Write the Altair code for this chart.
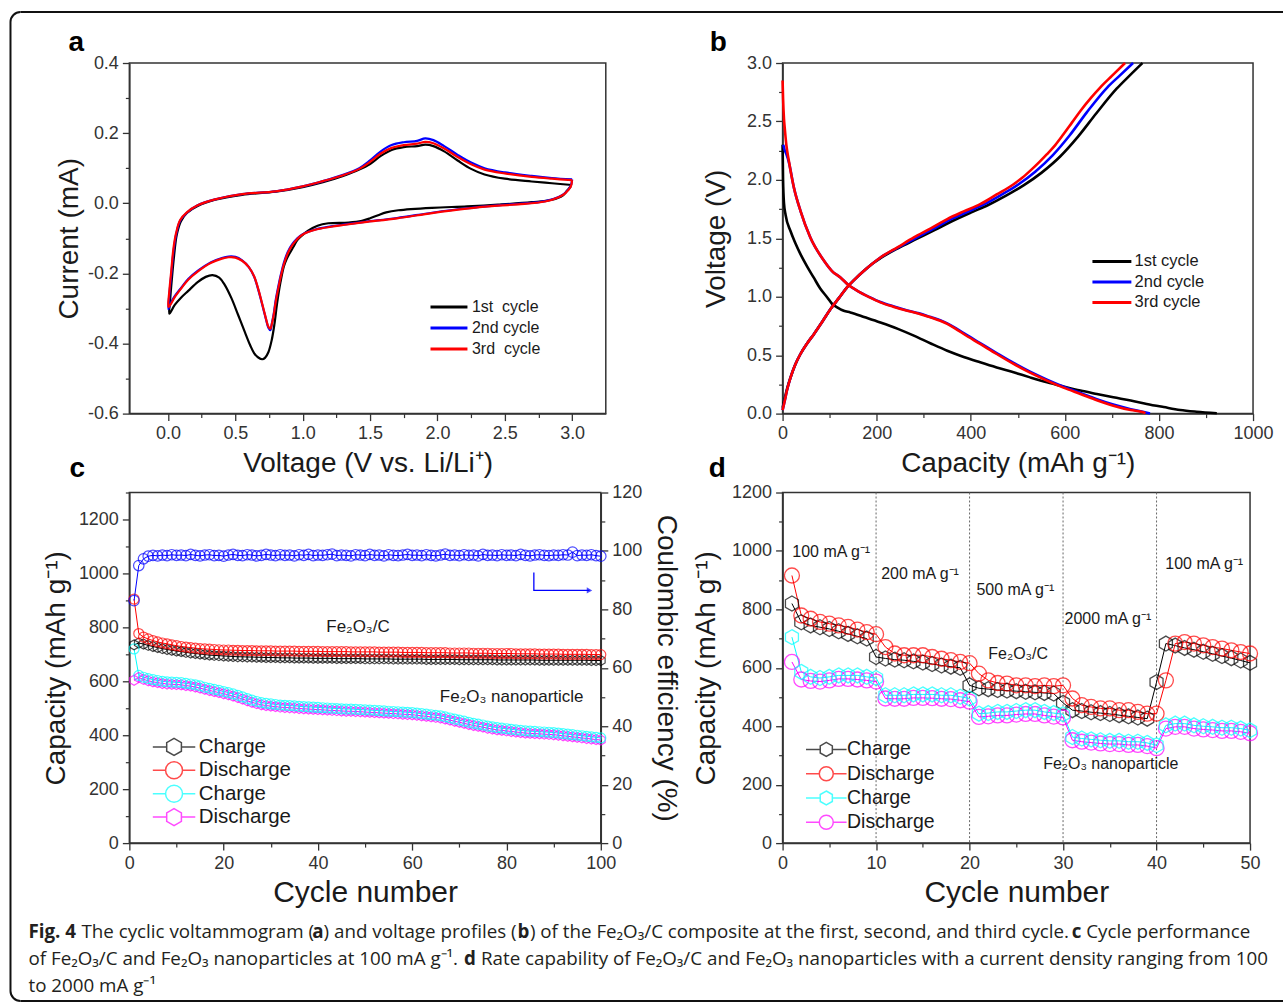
import altair as alt
import pandas as pd

FONT = "Liberation Sans"
CAP_FONT = "Open Sans"
AXC = "#333333"
TXT = "#1a1a1a"

# ---------------- (a) cyclic voltammogram ----------------
A_NAMES = ["1st\u00a0 cycle", "2nd cycle", "3rd\u00a0 cycle"]
A_COLORS = ["#000000", "#0000ff", "#ff0000"]
A1_V = [2.99, 2.96, 2.93, 2.85, 2.70, 2.45, 2.22, 1.96, 1.71, 1.62, 1.56, 1.50, 1.44, 1.34, 1.19,
        1.11, 1.04, 1.00, 0.96, 0.93, 0.90, 0.88, 0.86, 0.835, 0.81, 0.79, 0.77, 0.745, 0.72, 0.70,
        0.67, 0.64, 0.61, 0.57, 0.52, 0.47, 0.42, 0.38, 0.33, 0.28, 0.22, 0.15, 0.10, 0.05, 0.01,
        0.015, 0.03, 0.045, 0.065, 0.095, 0.14, 0.22, 0.35, 0.55, 0.80, 1.00, 1.15, 1.30, 1.42, 1.50,
        1.58, 1.66, 1.75, 1.85, 1.91, 1.97, 2.05, 2.15, 2.25, 2.35, 2.50, 2.70, 2.85, 3.00]
A1_I = [0.048, 0.035, 0.022, 0.010, 0.003, -0.004, -0.009, -0.013, -0.020, -0.026, -0.034, -0.043, -0.050, -0.055, -0.057,
        -0.064, -0.078, -0.090, -0.105, -0.125, -0.145, -0.160, -0.180, -0.225, -0.285, -0.345, -0.390, -0.425, -0.441, -0.445,
        -0.440, -0.428, -0.405, -0.367, -0.318, -0.270, -0.232, -0.212, -0.205, -0.210, -0.225, -0.250, -0.268, -0.290, -0.315,
        -0.28, -0.21, -0.15, -0.09, -0.052, -0.028, -0.008, 0.010, 0.024, 0.033, 0.046, 0.060, 0.078, 0.096, 0.112,
        0.135, 0.152, 0.160, 0.163, 0.167, 0.163, 0.148, 0.122, 0.098, 0.082, 0.070, 0.062, 0.057, 0.052]
A2_V = [3.00, 2.99, 2.95, 2.90, 2.80, 2.60, 2.45, 2.20, 1.96, 1.70, 1.46, 1.30, 1.21, 1.10, 1.00,
        0.96, 0.92, 0.89, 0.86, 0.84, 0.82, 0.80, 0.785, 0.77, 0.76, 0.745, 0.73, 0.71, 0.69, 0.665,
        0.64, 0.60, 0.55, 0.50, 0.45, 0.40, 0.32, 0.22, 0.15, 0.10, 0.05, 0.02, 0.003,
        0.01, 0.025, 0.04, 0.06, 0.09, 0.14, 0.22, 0.35, 0.55, 0.80, 1.00, 1.15, 1.30, 1.42, 1.50,
        1.58, 1.66, 1.75, 1.85, 1.91, 1.97, 2.05, 2.15, 2.25, 2.35, 2.50, 2.70, 2.85, 3.00]
A2_I = [0.068, 0.050, 0.030, 0.018, 0.006, -0.002, -0.006, -0.015, -0.027, -0.042, -0.053, -0.061, -0.066, -0.074, -0.088,
        -0.100, -0.118, -0.138, -0.170, -0.200, -0.235, -0.275, -0.315, -0.345, -0.362, -0.355, -0.335, -0.305, -0.275, -0.240,
        -0.210, -0.182, -0.163, -0.153, -0.152, -0.156, -0.168, -0.193, -0.216, -0.240, -0.265, -0.285, -0.302,
        -0.26, -0.20, -0.14, -0.09, -0.050, -0.027, -0.006, 0.011, 0.026, 0.034, 0.048, 0.063, 0.081, 0.100, 0.122,
        0.148, 0.166, 0.174, 0.178, 0.185, 0.180, 0.163, 0.138, 0.116, 0.100, 0.088, 0.078, 0.072, 0.068]
A3_V = [3.00, 2.99, 2.95, 2.90, 2.80, 2.60, 2.45, 2.20, 1.96, 1.70, 1.46, 1.30, 1.21, 1.10, 1.00,
        0.96, 0.92, 0.89, 0.86, 0.84, 0.82, 0.80, 0.785, 0.77, 0.76, 0.745, 0.73, 0.71, 0.69, 0.665,
        0.64, 0.60, 0.55, 0.50, 0.45, 0.40, 0.32, 0.22, 0.15, 0.10, 0.05, 0.02, 0.003,
        0.01, 0.025, 0.04, 0.06, 0.09, 0.14, 0.22, 0.35, 0.55, 0.80, 1.00, 1.15, 1.30, 1.42, 1.50,
        1.58, 1.66, 1.75, 1.85, 1.91, 1.97, 2.05, 2.15, 2.25, 2.35, 2.50, 2.70, 2.85, 3.00]
A3_I = [0.066, 0.048, 0.029, 0.017, 0.005, -0.003, -0.007, -0.016, -0.028, -0.043, -0.054, -0.062, -0.067, -0.075, -0.089,
        -0.102, -0.121, -0.142, -0.174, -0.204, -0.240, -0.280, -0.318, -0.346, -0.358, -0.352, -0.333, -0.303, -0.273, -0.238,
        -0.209, -0.182, -0.164, -0.155, -0.154, -0.158, -0.170, -0.195, -0.218, -0.242, -0.268, -0.288, -0.296,
        -0.25, -0.19, -0.13, -0.085, -0.048, -0.026, -0.006, 0.011, 0.026, 0.034, 0.048, 0.063, 0.080, 0.098, 0.118,
        0.142, 0.158, 0.166, 0.170, 0.175, 0.171, 0.156, 0.132, 0.111, 0.096, 0.085, 0.075, 0.070, 0.066]

# ---------------- (b) voltage profiles ----------------
B_NAMES = ["1st cycle", "2nd cycle", "3rd cycle"]
B1D_C = [0, 1, 3, 6.4, 17, 27, 38, 52, 66, 80, 95, 105, 116, 130, 144, 175, 208, 245, 279, 315,
         350, 385, 420, 455, 491, 526, 562, 597, 633, 668, 703, 740, 774, 810, 845, 880, 923]
B1D_V = [2.30, 2.00, 1.80, 1.70, 1.56, 1.46, 1.365, 1.26, 1.165, 1.07, 0.994, 0.94, 0.909, 0.88, 0.866, 0.825, 0.780, 0.725, 0.667, 0.600,
         0.538, 0.485, 0.439, 0.395, 0.353, 0.310, 0.268, 0.232, 0.197, 0.168, 0.140, 0.112, 0.083, 0.056, 0.031, 0.016, 0.003]
B2D_C = [1.5, 4, 8, 13.4, 24, 38, 59, 88, 105, 123, 140, 159, 185, 208, 235, 265, 290, 315, 335, 350,
         368, 385, 420, 455, 491, 526, 562, 597, 633, 668, 703, 740, 770, 781]
B2D_V = [2.30, 2.26, 2.22, 2.15, 1.934, 1.735, 1.507, 1.308, 1.22, 1.165, 1.10, 1.051, 0.997, 0.955, 0.918, 0.883, 0.858, 0.826, 0.800, 0.772,
         0.731, 0.688, 0.603, 0.518, 0.433, 0.358, 0.290, 0.230, 0.176, 0.123, 0.077, 0.038, 0.012, 0.0]
B3D_C = [0, 1, 3, 4.5, 8, 13.4, 24, 38, 59, 88, 105, 123, 140, 159, 185, 208, 235, 265, 290, 315,
         335, 350, 368, 385, 420, 455, 491, 526, 562, 597, 633, 668, 703, 740, 767, 771]
B3D_V = [2.85, 2.70, 2.52, 2.447, 2.30, 2.162, 1.934, 1.735, 1.507, 1.308, 1.22, 1.165, 1.10, 1.051, 0.995, 0.952, 0.915, 0.880, 0.855, 0.823,
         0.795, 0.767, 0.725, 0.681, 0.596, 0.510, 0.425, 0.350, 0.282, 0.222, 0.168, 0.115, 0.068, 0.030, 0.011, 0.0]
B1C_C = [0, 4, 10, 17, 27, 38, 52, 66.5, 85, 102, 120, 137, 155, 173, 190, 208, 245, 285, 325, 362,
         400, 437, 475, 513, 550, 590, 628, 667, 710, 737, 765]
B1C_V = [0.05, 0.12, 0.22, 0.31, 0.42, 0.51, 0.60, 0.68, 0.79, 0.895, 0.99, 1.08, 1.155, 1.222, 1.28, 1.33, 1.415, 1.495, 1.575, 1.65,
         1.72, 1.785, 1.865, 1.955, 2.06, 2.20, 2.37, 2.57, 2.78, 2.89, 3.0]
B2C_C = [0, 4, 10, 17, 27, 38, 52, 66.5, 85, 102, 120, 137, 155, 173, 190, 208, 245, 282, 320, 356,
         392, 428, 464, 501, 537, 574, 610, 647, 690, 716, 745]
B2C_V = [0.03, 0.10, 0.21, 0.31, 0.42, 0.51, 0.60, 0.68, 0.79, 0.895, 0.99, 1.08, 1.155, 1.222, 1.28, 1.336, 1.42, 1.50, 1.58, 1.66,
         1.725, 1.79, 1.87, 1.96, 2.07, 2.21, 2.38, 2.58, 2.79, 2.89, 3.0]
B3C_C = [0, 4, 10, 17, 27, 38, 52, 66.5, 85, 102, 120, 137, 155, 173, 190, 208, 245, 279, 315, 350,
         385, 420, 455, 491, 510, 526, 545, 562, 580, 597, 615, 633, 655, 675, 700, 728]
B3C_V = [0.03, 0.10, 0.21, 0.31, 0.42, 0.51, 0.60, 0.68, 0.79, 0.895, 0.99, 1.08, 1.155, 1.222, 1.28, 1.336, 1.425, 1.507, 1.585, 1.664,
         1.73, 1.792, 1.875, 1.963, 2.02, 2.077, 2.15, 2.22, 2.30, 2.39, 2.49, 2.59, 2.70, 2.79, 2.89, 3.0]

# ---------------- (c) cycle performance ----------------
C_CE = [83.0, 95.0, 97.3, 98.2, 98.5, 98.3, 98.6, 98.4, 98.7, 98.5,
        98.6, 98.4, 98.8, 98.5, 98.3, 98.6, 98.7, 98.4, 98.5, 98.2,
        98.6, 98.8, 98.5, 98.4, 98.7, 98.6, 98.3, 98.5, 98.8, 98.6,
        98.4, 98.7, 98.5, 98.6, 98.3, 98.7, 98.5, 98.8, 98.4, 98.6,
        98.5, 98.7, 98.9, 98.4, 98.6, 98.5, 98.3, 98.7, 98.6, 98.4,
        98.8, 98.5, 98.6, 98.3, 98.7, 98.5, 98.4, 98.6, 98.8, 98.5,
        98.6, 98.4, 98.7, 98.5, 98.3, 98.6, 98.9, 98.5, 98.6, 98.4,
        98.7, 98.5, 98.6, 98.3, 98.8, 98.5, 98.6, 98.4, 98.7, 98.5,
        98.6, 98.4, 98.8, 98.5, 98.3, 98.6, 98.7, 98.5, 98.4, 98.6,
        98.5, 98.7, 98.6, 99.6, 98.4, 98.6, 98.5, 98.7, 98.4, 98.2]
C_CH_FC = [735, 742, 738, 733, 729, 725, 721, 718, 715, 712,
           710, 707, 705, 703, 701, 699, 697, 696, 695, 694,
           693, 692, 691, 691, 690, 690, 689, 689, 688, 688,
           688, 687, 687, 687, 686, 686, 686, 686, 685, 685,
           685, 685, 685, 684, 684, 684, 684, 684, 684, 683,
           683, 683, 683, 683, 683, 682, 682, 682, 682, 682,
           682, 682, 681, 681, 681, 681, 681, 681, 681, 680,
           680, 680, 680, 680, 680, 680, 680, 679, 679, 679,
           679, 679, 679, 679, 679, 679, 678, 678, 678, 678,
           678, 678, 678, 678, 678, 678, 678, 677, 677, 677]
C_DIS_FC = [905, 777, 764, 757, 751, 746, 742, 739, 735, 732,
            729, 727, 725, 723, 721, 720, 719, 718, 717, 716,
            716, 715, 715, 714, 714, 714, 713, 713, 713, 713,
            712, 712, 712, 712, 712, 711, 711, 711, 711, 711,
            710, 710, 710, 710, 710, 710, 709, 709, 709, 709,
            709, 709, 708, 708, 708, 708, 708, 707, 707, 707,
            707, 707, 706, 706, 706, 706, 706, 705, 705, 705,
            705, 705, 704, 704, 704, 704, 703, 703, 703, 703,
            703, 702, 702, 702, 702, 702, 701, 701, 701, 701,
            701, 700, 700, 700, 700, 700, 700, 699, 699, 699]
C_CH_NP = [720, 622, 615, 610, 606, 603, 600, 598, 597, 596,
           595, 592, 590, 587, 583, 578, 574, 570, 566, 562,
           558, 553, 548, 542, 536, 530, 525, 521, 518, 516,
           514, 512, 511, 510, 509, 507, 506, 505, 504, 503,
           502, 501, 500, 499, 498, 497, 497, 496, 495, 494,
           493, 492, 491, 490, 489, 488, 487, 486, 485, 484,
           482, 480, 478, 476, 474, 472, 468, 464, 460, 456,
           452, 448, 444, 441, 438, 434, 431, 428, 426, 424,
           422, 420, 418, 416, 415, 414, 413, 412, 411, 410,
           408, 406, 404, 402, 400, 398, 396, 394, 392, 390]
C_DIS_NP = [604, 614, 607, 602, 598, 595, 592, 590, 589, 588,
            587, 584, 582, 579, 575, 570, 566, 562, 558, 554,
            550, 545, 540, 534, 528, 522, 517, 513, 510, 508,
            506, 504, 503, 502, 501, 499, 498, 497, 496, 495,
            494, 493, 492, 491, 490, 489, 489, 488, 487, 486,
            485, 484, 483, 482, 481, 480, 479, 478, 477, 476,
            474, 472, 470, 468, 466, 464, 460, 456, 452, 448,
            444, 440, 436, 433, 430, 426, 423, 420, 418, 416,
            414, 412, 410, 408, 407, 406, 405, 404, 403, 402,
            400, 398, 396, 394, 392, 390, 388, 386, 384, 382]
C_ANN_T = ["Fe\u2082O\u2083/C", "Fe\u2082O\u2083 nanoparticle"]
C_ANN_X = [48.5, 81.1]
C_ANN_Y = [800, 540]
C_ARROW_X = [85.8, 85.8, 97.6]
C_ARROW_Y = [92.6, 86.5, 86.5]

# ---------------- (d) rate capability ----------------
D_CH_FC = [820, 756, 745, 739, 733, 725, 716, 708, 700, 637,
           632, 628, 626, 622, 618, 613, 608, 604, 600, 540,
           530, 527, 524, 522, 520, 518, 516, 514, 512, 480,
           455, 452, 448, 445, 442, 438, 434, 430, 426, 551,
           683, 676, 668, 662, 655, 648, 640, 633, 625, 617]
D_DIS_FC = [916, 779, 768, 757, 751, 745, 740, 731, 722, 715,
            671, 649, 643, 643, 643, 637, 631, 626, 620, 616,
            580, 557, 548, 546, 540, 540, 537, 540, 537, 540,
            495, 472, 466, 461, 461, 455, 455, 449, 443, 443,
            557, 683, 688, 683, 677, 671, 666, 660, 654, 649]
D_CH_NP = [705, 586, 569, 565, 569, 574, 574, 574, 569, 565,
           506, 506, 506, 509, 509, 509, 506, 506, 501, 495,
           443, 445, 449, 449, 452, 455, 455, 449, 445, 441,
           363, 358, 355, 352, 350, 350, 347, 347, 343, 335,
           403, 409, 409, 403, 400, 398, 395, 395, 392, 386]
D_DIS_NP = [620, 560, 555, 553, 557, 562, 562, 560, 557, 553,
            495, 494, 494, 497, 497, 496, 494, 493, 489, 484,
            432, 434, 437, 437, 440, 442, 442, 437, 433, 430,
            352, 347, 344, 341, 339, 339, 336, 336, 332, 325,
            392, 398, 398, 392, 389, 387, 384, 384, 381, 376]
D_RATE_STEPS = [10, 20, 30, 40]
D_ANN_T = ["100 mA g\u207b\u00b9", "200 mA g\u207b\u00b9", "500 mA g\u207b\u00b9", "2000 mA g\u207b\u00b9",
           "100 mA g\u207b\u00b9", "Fe\u2082O\u2083/C", "Fe\u2082O\u2083 nanoparticle"]
D_ANN_X = [5.2, 14.7, 24.9, 34.8, 45.1, 25.2, 35.1]
D_ANN_Y = [995, 920, 865, 766, 957, 646, 270]

KEYS = ["c1", "d1", "c2", "d2"]
KEY_COLORS = ["#000000", "#ff0000", "#00ffff", "#ff00ff"]
HEX = "M0,-1L0.866,-0.5L0.866,0.5L0,1L-0.866,0.5L-0.866,-0.5Z"
LEG_LINE = "M-2.5,0L2.5,0"


def leg_circle(w):
    return f"M-{w},0L-1,0M1,0L{w},0M1,0A1,1,0,1,1,-1,0A1,1,0,1,1,1,0Z"


def leg_hex(w):
    return f"M-{w},0L-0.866,0M0.866,0L{w},0M0,-1L0.866,-0.5L0.866,0.5L0,1L-0.866,0.5L-0.866,-0.5Z"


ONE = pd.DataFrame({"k": [0]})


def major_axis(values, title, orient, fmt=None, expr=None, tsize=28, tpad=6, lpad=4):
    kw = dict(values=values, title=title, orient=orient, grid=False,
              labelFont=FONT, labelFontSize=18, labelColor="#333333",
              titleFont=FONT, titleFontSize=tsize, titleFontWeight="normal", titleColor=TXT,
              titlePadding=tpad, labelPadding=lpad, tickSize=7, tickWidth=1.3, tickColor=AXC,
              domainColor=AXC, domainWidth=1.5, labelFlush=False, labelOverlap=False)
    if fmt is not None:
        kw["format"] = fmt
    if expr is not None:
        kw["labelExpr"] = expr
    return alt.Axis(**kw)


def minor_axis(values, orient):
    return alt.Axis(values=values, orient=orient, labels=False, domain=False, grid=False,
                    title=None, tickSize=4, tickWidth=1.2, tickColor=AXC)


def minor_layer(xs, xvals, ys, yvals, yorient="left"):
    enc = {}
    if xs is not None:
        enc["x"] = alt.X("k:Q", scale=xs, axis=minor_axis(xvals, "bottom"))
    enc["y"] = alt.Y("k:Q", scale=ys, axis=minor_axis(yvals, yorient))
    return alt.Chart(ONE).transform_filter("false").mark_point().encode(**enc)


def letter(t, x, y):
    return alt.Chart(ONE).mark_text(text=t, font=FONT, fontSize=28, fontWeight="bold", color="#000000",
                                    align="left", baseline="alphabetic").encode(x=alt.value(x), y=alt.value(y))


def line_legend(x, y, fs, rowpad, symsize, lab_off):
    return alt.Legend(orient="none", legendX=x, legendY=y, title=None, labelFont=FONT, labelFontSize=fs,
                      labelColor=TXT, symbolType=LEG_LINE, symbolSize=symsize, symbolStrokeWidth=3,
                      symbolFillColor="transparent", labelOffset=lab_off, rowPadding=rowpad, padding=0)


def pt_legend(x, y, fs, lab_off, rowpad, ssize):
    return alt.Legend(orient="none", legendX=x, legendY=y, title=None, labelFont=FONT, labelFontSize=fs,
                      labelColor=TXT, labelOffset=lab_off, rowPadding=rowpad, padding=0, symbolSize=ssize,
                      symbolStrokeWidth=1.5, symbolFillColor="transparent",
                      labelExpr="datum.label[0] == 'c' ? 'Charge' : 'Discharge'")


def neg_fmt(fmt):
    return "replace(format(datum.value, '" + fmt + "'), '\u2212', '-')"


# ---------------- panel a ----------------
frames = []
for v, i, n in [(A1_V, A1_I, A_NAMES[0]), (A2_V, A2_I, A_NAMES[1]), (A3_V, A3_I, A_NAMES[2])]:
    frames.append(pd.DataFrame({"V": v, "I": i, "s": n, "o": list(range(len(v)))}))
df_a = pd.concat(frames, ignore_index=True)

sa_x = alt.Scale(domain=[-0.287, 3.25], nice=False, zero=False)
sa_y = alt.Scale(domain=[-0.6, 0.4], nice=False, zero=False)
a_lines = alt.Chart(df_a).mark_line(strokeWidth=2.2, interpolate="catmull-rom").encode(
    x=alt.X("V:Q", scale=sa_x, axis=major_axis([0.0, 0.5, 1.0, 1.5, 2.0, 2.5, 3.0], "Voltage (V vs. Li/Li\u207a)",
                                               "bottom", fmt=".1f", tpad=7)),
    y=alt.Y("I:Q", scale=sa_y, axis=major_axis([-0.6, -0.4, -0.2, 0.0, 0.2, 0.4], "Current (mA)", "left",
                                               expr=neg_fmt(".1f"), tpad=4)),
    color=alt.Color("s:N", scale=alt.Scale(domain=A_NAMES, range=A_COLORS),
                    legend=line_legend(311, 235.3, 16, 4, 219, 14)),
    order=alt.Order("o:Q"),
)
a_minor = minor_layer(sa_x, [0.25, 0.75, 1.25, 1.75, 2.25, 2.75], sa_y, [-0.5, -0.3, -0.1, 0.1, 0.3])

# frame of the whole figure and the caption, placed relative to panel a
border = [
    alt.Chart(ONE).mark_rule(color="#111111", strokeWidth=2).encode(
        x=alt.value(-109), x2=alt.value(1155), y=alt.value(-51)),
    alt.Chart(ONE).mark_rule(color="#111111", strokeWidth=2).encode(
        x=alt.value(-109), x2=alt.value(1155), y=alt.value(939)),
    alt.Chart(ONE).mark_rule(color="#111111", strokeWidth=2).encode(
        x=alt.value(-119), y=alt.value(-41), y2=alt.value(929)),
    alt.Chart(ONE).mark_arc(innerRadius=10, outerRadius=10, theta=4.7124, theta2=6.2832, stroke="#111111",
                            strokeWidth=2, fill="transparent").encode(x=alt.value(-109), y=alt.value(-41)),
    alt.Chart(ONE).mark_arc(innerRadius=10, outerRadius=10, theta=3.1416, theta2=4.7124, stroke="#111111",
                            strokeWidth=2, fill="transparent").encode(x=alt.value(-109), y=alt.value(929)),
]

CAPTION = [
    ("Fig. 4", True, 27, 0),
    ("The cyclic voltammogram (", False, 80, 0),
    ("a", True, 311, 0),
    (") and voltage profiles (", False, 322.5, 0),
    ("b", True, 516.5, 0),
    (") of the Fe\u2082O\u2083/C composite at the first, second, and third cycle.", False, 529, 0),
    ("c", True, 1071.5, 0),
    ("Cycle performance", False, 1086, 0),
    ("of Fe\u2082O\u2083/C and Fe\u2082O\u2083 nanoparticles at 100 mA g\u207b\u00b9.", False, 27, 1),
    ("d", True, 463, 1),
    ("Rate capability of Fe\u2082O\u2083/C and Fe\u2082O\u2083 nanoparticles with a current density ranging from 100",
     False, 480, 1),
    ("to 2000 mA g\u207b\u00b9", False, 27, 2),
]
CAP_BASE = [938, 965, 992]
caption_layers = []
for txt, bold, px, line in CAPTION:
    caption_layers.append(
        alt.Chart(ONE).mark_text(text=txt, font=CAP_FONT, fontSize=18.8, fontWeight="bold" if bold else "normal",
                                 color="#231f20", align="left", baseline="alphabetic").encode(
            x=alt.value(px - 128), y=alt.value(CAP_BASE[line] - 62)))

panel_a = alt.layer(a_lines, a_minor, letter("a", -61, -12), *border, *caption_layers).resolve_axis(
    x="independent", y="independent").properties(width=477, height=351)

# ---------------- panel b ----------------
frames = []
for c, v, n, cid in [(B1D_C, B1D_V, B_NAMES[0], "1d"), (B1C_C, B1C_V, B_NAMES[0], "1c"),
                     (B2D_C, B2D_V, B_NAMES[1], "2d"), (B2C_C, B2C_V, B_NAMES[1], "2c"),
                     (B3D_C, B3D_V, B_NAMES[2], "3d"), (B3C_C, B3C_V, B_NAMES[2], "3c")]:
    frames.append(pd.DataFrame({"C": c, "V": v, "s": n, "curve": cid, "o": list(range(len(c)))}))
df_b = pd.concat(frames, ignore_index=True)
sb_x = alt.Scale(domain=[0, 1000], nice=False)
sb_y = alt.Scale(domain=[0, 3.0], nice=False)
b_lines = alt.Chart(df_b).mark_line(strokeWidth=2.6, interpolate="monotone").encode(
    x=alt.X("C:Q", scale=sb_x, axis=major_axis([0, 200, 400, 600, 800, 1000], "Capacity (mAh g\u207b\u00b9)",
                                               "bottom", fmt="d", tpad=7)),
    y=alt.Y("V:Q", scale=sb_y, axis=major_axis([0.0, 0.5, 1.0, 1.5, 2.0, 2.5, 3.0], "Voltage (V)", "left",
                                               fmt=".1f", tpad=16)),
    color=alt.Color("s:N", scale=alt.Scale(domain=B_NAMES, range=A_COLORS),
                    legend=line_legend(320.2, 189.2, 16.5, 2.5, 243, 13.2)),
    detail="curve:N",
    order=alt.Order("o:Q"),
)
b_minor = minor_layer(sb_x, [100, 300, 500, 700, 900], sb_y, [0.25, 0.75, 1.25, 1.75, 2.25, 2.75])
panel_b = alt.layer(b_lines, b_minor, letter("b", -73, -12)).resolve_axis(
    x="independent", y="independent").properties(width=471, height=351)

# ---------------- panel c ----------------
frames = []
for vals, k in [(C_CH_FC, "c1"), (C_DIS_FC, "d1"), (C_DIS_NP, "d2"), (C_CH_NP, "c2")]:
    frames.append(pd.DataFrame({"n": list(range(1, len(vals) + 1)), "cap": vals, "k": k}))
df_c = pd.concat(frames, ignore_index=True)
df_ce = pd.DataFrame({"n": list(range(1, len(C_CE) + 1)), "ce": C_CE})

sc_x = alt.Scale(domain=[0, 100], nice=False)
sc_y = alt.Scale(domain=[0, 1300], nice=False)
sc_r = alt.Scale(domain=[0, 120], nice=False)
c_color = alt.Scale(domain=KEYS, range=KEY_COLORS)
c_x_axis = major_axis([0, 20, 40, 60, 80, 100], "Cycle number", "bottom", fmt="d", tsize=30, tpad=5)

c_lines = alt.Chart(df_c).mark_line(strokeWidth=1).encode(
    x=alt.X("n:Q", scale=sc_x, axis=c_x_axis),
    y=alt.Y("cap:Q", scale=sc_y, axis=major_axis([0, 200, 400, 600, 800, 1000, 1200], "Capacity (mAh g\u207b\u00b9)",
                                                 "left", fmt="d", tpad=8)),
    color=alt.Color("k:N", scale=c_color, legend=None),
    detail="k:N",
)
c_pts = alt.Chart(df_c).mark_point(filled=False, strokeWidth=1.2, size=100).encode(
    x=alt.X("n:Q", scale=sc_x, axis=None),
    y=alt.Y("cap:Q", scale=sc_y, axis=None),
    color=alt.Color("k:N", scale=c_color, legend=None),
    shape=alt.Shape("k:N", scale=alt.Scale(domain=KEYS, range=[HEX, "circle", "circle", HEX]), legend=None),
)
c_ce_line = alt.Chart(df_ce).mark_line(strokeWidth=1, color="#0000ff").encode(
    x=alt.X("n:Q", scale=sc_x, axis=None),
    y=alt.Y("ce:Q", scale=sc_r, axis=major_axis([0, 20, 40, 60, 80, 100, 120], "Coulombic efficiency (%)",
                                                "right", fmt="d", tpad=10)),
)
c_ce_pts = alt.Chart(df_ce).mark_point(filled=False, strokeWidth=1.2, size=110, color="#0000ff").encode(
    x=alt.X("n:Q", scale=sc_x, axis=None),
    y=alt.Y("ce:Q", scale=sc_r, axis=None),
)
c_minor_l = minor_layer(sc_x, [10, 30, 50, 70, 90], sc_y, [100, 300, 500, 700, 900, 1100, 1300])
c_minor_r = minor_layer(None, None, sc_r, [10, 30, 50, 70, 90, 110], yorient="right")
c_legend = pt_legend(34.5, 244.5, 20.5, 14.5, -0.6, 289)
c_leg = alt.Chart(pd.DataFrame({"k": KEYS})).transform_filter("false").mark_point(filled=False).encode(
    color=alt.Color("k:N", scale=c_color, legend=c_legend),
    shape=alt.Shape("k:N", scale=alt.Scale(domain=KEYS, range=[leg_hex(2.5), leg_circle(2.5), leg_circle(2.5),
                                                                leg_hex(2.5)]), legend=c_legend),
)
c_ann = alt.Chart(pd.DataFrame({"t": C_ANN_T, "x": C_ANN_X, "y": C_ANN_Y})).mark_text(
    font=FONT, fontSize=17, color=TXT, align="center", baseline="middle").encode(
    x=alt.X("x:Q", scale=sc_x, axis=None), y=alt.Y("y:Q", scale=sc_y, axis=None), text="t:N")
c_arrow = alt.Chart(pd.DataFrame({"x": C_ARROW_X, "y": C_ARROW_Y, "o": [0, 1, 2]})).mark_line(
    color="#0000ff", strokeWidth=1.3).encode(
    x=alt.X("x:Q", scale=sc_x, axis=None), y=alt.Y("y:Q", scale=sc_r, axis=None), order="o:Q")
c_head = alt.Chart(pd.DataFrame({"x": [C_ARROW_X[-1]], "y": [C_ARROW_Y[-1]]})).mark_point(
    shape="triangle-right", filled=True, size=40, color="#0000ff").encode(
    x=alt.X("x:Q", scale=sc_x, axis=None), y=alt.Y("y:Q", scale=sc_r, axis=None))

panel_c = alt.layer(c_lines, c_pts, c_ce_line, c_ce_pts, c_minor_l, c_minor_r, c_leg, c_ann, c_arrow, c_head,
                    letter("c", -60, -16)).resolve_scale(
    y="independent", color="independent", shape="independent").resolve_axis(
    x="independent", y="independent").properties(width=472, height=351)

# ---------------- panel d ----------------
frames = []
for vals, k in [(D_CH_FC, "c1"), (D_DIS_FC, "d1"), (D_DIS_NP, "d2"), (D_CH_NP, "c2")]:
    frames.append(pd.DataFrame({"n": list(range(1, len(vals) + 1)), "cap": vals, "k": k}))
df_d = pd.concat(frames, ignore_index=True)
sd_x = alt.Scale(domain=[0, 50], nice=False)
sd_y = alt.Scale(domain=[0, 1200], nice=False)

d_steps = alt.Chart(pd.DataFrame({"n": D_RATE_STEPS})).mark_rule(color="#666666", strokeWidth=1,
                                                                  strokeDash=[2, 2]).encode(
    x=alt.X("n:Q", scale=sd_x, axis=None))
d_lines = alt.Chart(df_d).mark_line(strokeWidth=1).encode(
    x=alt.X("n:Q", scale=sd_x, axis=major_axis([0, 10, 20, 30, 40, 50], "Cycle number", "bottom", fmt="d",
                                               tsize=30, tpad=5)),
    y=alt.Y("cap:Q", scale=sd_y, axis=major_axis([0, 200, 400, 600, 800, 1000, 1200], "Capacity (mAh g\u207b\u00b9)",
                                                 "left", fmt="d", tpad=11)),
    color=alt.Color("k:N", scale=c_color, legend=None),
    detail="k:N",
)
d_pts = alt.Chart(df_d).mark_point(filled=False, strokeWidth=1.3, size=225).encode(
    x=alt.X("n:Q", scale=sd_x, axis=None),
    y=alt.Y("cap:Q", scale=sd_y, axis=None),
    color=alt.Color("k:N", scale=c_color, legend=None),
    shape=alt.Shape("k:N", scale=alt.Scale(domain=KEYS, range=[HEX, "circle", HEX, "circle"]), legend=None),
)
d_minor = minor_layer(sd_x, [5, 15, 25, 35, 45], sd_y, [100, 300, 500, 700, 900, 1100])
d_legend = pt_legend(34, 247.5, 19.5, 11, 3.3, 196)
d_leg = alt.Chart(pd.DataFrame({"k": KEYS})).transform_filter("false").mark_point(filled=False).encode(
    color=alt.Color("k:N", scale=c_color, legend=d_legend),
    shape=alt.Shape("k:N", scale=alt.Scale(domain=KEYS, range=[leg_hex(2.9), leg_circle(2.9), leg_hex(2.9),
                                                                leg_circle(2.9)]), legend=d_legend),
)
d_ann = alt.Chart(pd.DataFrame({"t": D_ANN_T, "x": D_ANN_X, "y": D_ANN_Y})).mark_text(
    font=FONT, fontSize=16, color=TXT, align="center", baseline="middle").encode(
    x=alt.X("x:Q", scale=sd_x, axis=None), y=alt.Y("y:Q", scale=sd_y, axis=None), text="t:N")

panel_d = alt.layer(d_steps, d_lines, d_pts, d_minor, d_leg, d_ann, letter("d", -74, -16)).resolve_scale(
    color="independent", shape="independent").resolve_axis(
    x="independent", y="independent").properties(width=468, height=351)

chart = alt.concat(panel_a, panel_b, panel_c, panel_d, columns=2, spacing={"row": 79, "column": 177},
                   bounds="flush").resolve_scale(
    color="independent", shape="independent").resolve_legend(
    color="independent", shape="independent").properties(
    padding={"left": 5.5, "top": 6.5, "right": 0, "bottom": 0}
).configure_view(stroke=AXC, strokeWidth=1.5)

chart.save("out.html", embed_options={"renderer": "svg", "actions": False})
